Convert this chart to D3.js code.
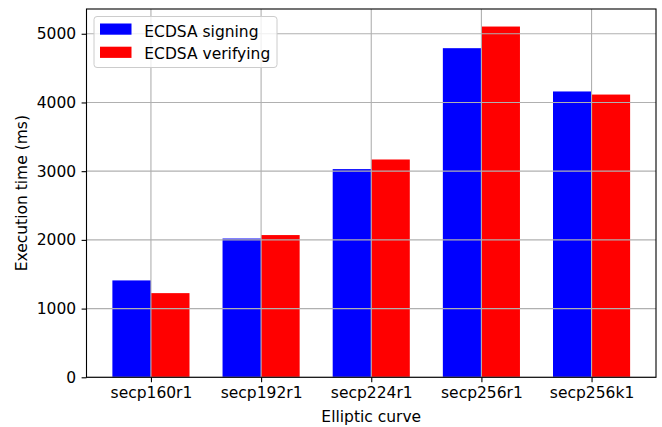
<!DOCTYPE html>
<html><head><meta charset="utf-8">
<script src="https://cdn.jsdelivr.net/npm/d3@7"></script>
<style>body{margin:0;background:#fff}text{font-family:"DejaVu Sans",sans-serif;fill:#000}</style>
</head><body><svg id="c" width="662" height="427"></svg>
<script>
const categories = ["secp160r1","secp192r1","secp224r1","secp256r1","secp256k1"];
const signing = [1410, 2020, 3030, 4790, 4160];
const verifying = [1225, 2070, 3170, 5105, 4115];
const seriesNames = ["ECDSA signing","ECDSA verifying"];
const seriesColors = ["#0000ff","#ff0000"];
const yTicks = [0,1000,2000,3000,4000,5000];

const svg = d3.select("#c");
const L=86.5, R=656, T=9, B=377.3;
const bw = 0.35;
const x = d3.scaleLinear().domain([-bw-0.235, categories.length-1+bw+0.235]).range([L,R]);
const y = d3.scaleLinear().domain([0, 5105*1.05]).range([B,T]);
const fs = "15.5px";

const series = [signing, verifying];
const g = svg.append("g");
series.forEach((vals,si)=>{
  g.selectAll(null).data(vals).enter().append("rect")
    .attr("x",(d,i)=>x(i + (si===0 ? -bw : 0)))
    .attr("width",(d,i)=>x(bw)-x(0))
    .attr("y",d=>y(d)).attr("height",d=>B-y(d))
    .attr("fill",seriesColors[si]);
});

// grid on top
const grid = svg.append("g").attr("stroke","#b0b0b0").attr("stroke-width",1.1);
yTicks.forEach(t=>grid.append("line").attr("x1",L).attr("x2",R).attr("y1",y(t)).attr("y2",y(t)));
categories.forEach((c,i)=>grid.append("line").attr("x1",x(i)).attr("x2",x(i)).attr("y1",T).attr("y2",B));

// axes
const xAxis = d3.axisBottom(x).tickValues(d3.range(categories.length)).tickFormat(i=>categories[i]).tickSizeOuter(0).tickSize(4.9).tickPadding(5);
const yAxis = d3.axisLeft(y).tickValues(yTicks).tickFormat(d3.format("d")).tickSizeOuter(0).tickSize(4.9).tickPadding(5.5);
const gx = svg.append("g").attr("transform",`translate(0,${B})`).call(xAxis);
const gy = svg.append("g").attr("transform",`translate(${L},0)`).call(yAxis);
[gx,gy].forEach(a=>{a.select(".domain").remove();a.selectAll("text").style("font-size",fs).attr("font-family","DejaVu Sans").attr("fill","#000");a.selectAll("line").attr("stroke","#000").attr("stroke-width",1.1);});
svg.append("rect").attr("x",L).attr("y",T).attr("width",R-L).attr("height",B-T).attr("fill","none").attr("stroke","#000").attr("stroke-width",1.1);

svg.append("text").attr("x",(L+R)/2).attr("y",422).attr("text-anchor","middle").style("font-size",fs).text("Elliptic curve");
svg.append("text").attr("transform",`translate(27,${(T+B)/2}) rotate(-90)`).attr("text-anchor","middle").style("font-size",fs).text("Execution time (ms)");

// legend
const lg = svg.append("g");
lg.append("rect").attr("x",94).attr("y",16.5).attr("width",183).attr("height",51).attr("rx",3)
  .attr("fill","#fff").attr("fill-opacity",0.8).attr("stroke","#cccccc").attr("stroke-width",1);
seriesNames.forEach((n,i)=>{
  lg.append("rect").attr("x",100).attr("y",23.5+i*23.2).attr("width",31.5).attr("height",11.2).attr("fill",seriesColors[i]);
  lg.append("text").attr("x",144.3).attr("y",36.5+i*22.7).style("font-size",fs).text(n);
});
</script></body></html>
